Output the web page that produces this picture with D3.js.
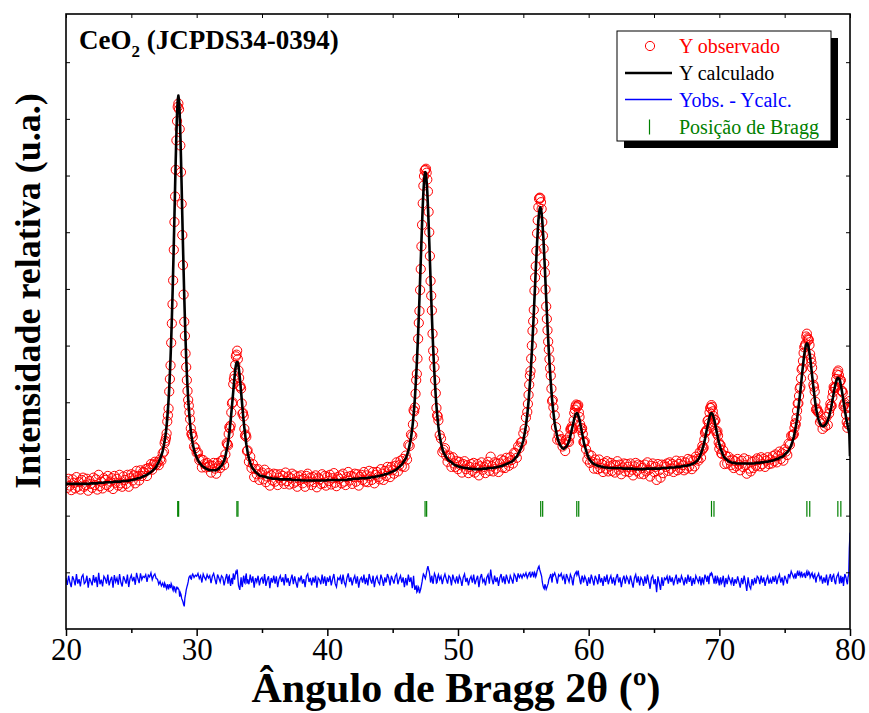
<!DOCTYPE html>
<html>
<head>
<meta charset="utf-8">
<script src="https://cdnjs.cloudflare.com/ajax/libs/d3/7.8.5/d3.min.js"></script>
<style>
body{margin:0;background:#fff}
text{font-family:"Times New Roman","Liberation Serif",serif}
</style>
</head>
<body>
<svg width="869" height="713"></svg>
<script>
// 2theta grid of the refinement (degrees)
var start2theta = 20, step2theta = 0.1

// Y calculado, one value per step, 20.0 .. 80.0
var yCalc = [
156,156,156,156,156,156,156,156,156,156,
156,156,156,156,156,156,156,156,156,157,
157,157,157,157,157,158,158,158,158,158,
159,159,159,159,159,159,159,160,160,160,
160,160,160,161,161,161,161,161,162,162,
163,163,164,164,165,166,166,167,168,169,
170,171,172,174,175,177,179,181,183,186,
191,195,200,206,214,225,239,259,287,325,
378,447,532,629,730,810,841,810,730,629,
532,447,378,327,289,261,241,227,216,209,
203,198,194,191,188,186,185,183,182,181,
180,180,180,180,180,180,182,183,186,188,
192,197,205,216,229,247,268,293,319,345,
365,371,364,344,318,291,266,245,226,212,
201,193,187,183,180,177,175,173,171,170,
170,169,169,168,167,167,166,166,165,165,
165,165,165,164,164,164,164,164,164,164,
164,164,164,163,163,163,163,163,163,163,
162,162,162,162,162,162,162,162,162,162,
162,162,162,162,162,162,162,162,162,162,
163,163,163,163,163,163,163,163,163,163,
163,163,163,163,163,163,164,164,164,164,
165,165,165,165,165,166,166,166,166,166,
166,167,167,167,168,168,168,169,169,170,
170,171,171,172,173,173,174,175,176,177,
178,179,180,182,184,186,188,190,194,197,
201,207,214,225,237,254,277,307,347,395,
452,516,583,645,689,706,689,646,584,517,
453,396,349,310,280,257,240,228,218,211,
207,203,200,197,196,194,192,190,189,188,
187,186,186,185,185,184,184,184,183,183,
183,182,182,182,182,182,182,182,182,183,
183,183,183,184,184,184,184,184,185,185,
186,186,187,187,188,189,190,191,192,193,
194,195,197,199,202,204,209,213,218,225,
233,245,259,278,302,332,368,410,457,507,
557,601,633,644,633,602,559,509,459,412,
371,335,305,282,263,250,239,231,225,222,
219,218,220,222,226,232,241,251,261,272,
279,281,277,269,257,245,233,223,215,208,
202,198,195,193,191,190,189,188,187,187,
186,186,185,185,185,184,184,184,184,184,
184,184,184,184,184,184,183,183,183,183,
183,183,183,183,183,182,182,182,182,182,
182,182,182,182,183,183,183,183,183,183,
183,183,183,183,183,183,184,184,184,184,
184,184,185,185,185,185,185,186,186,186,
186,187,187,188,188,188,189,189,190,191,
192,193,195,197,200,204,210,217,225,235,
247,258,269,278,281,278,270,259,248,236,
226,218,212,206,202,200,198,196,195,194,
193,193,193,192,192,192,192,192,192,192,
192,192,192,192,192,192,192,192,193,193,
193,193,194,194,194,195,195,195,196,196,
197,197,198,199,200,200,202,203,204,205,
208,210,212,215,219,224,231,239,250,264,
280,299,319,342,364,384,398,404,400,387,
368,347,326,307,290,278,269,263,259,258,
258,260,263,268,275,285,296,309,322,333,
341,343,340,330,317,302,287,273,261,250,
205]

// Yobs. - Ycalc., same grid
var yDiff = [
5,-7,9,-3,-11,8,2,-8,12,-5,
3,-10,7,11,-5,-2,9,-12,5,-1,
-8,10,-3,7,-11,14,-6,2,-10,8,
4,-5,11,-8,1,7,-12,10,-2,5,
-7,12,-3,-10,8,2,-5,11,-11,4,
10,-1,7,-7,14,4,-4,13,2,8,
6,11,-2,10,7,14,2,9,12,4,
3,-6,-1,-9,-4,-12,-7,-14,-10,-6,
-13,-8,-17,-11,-20,-14,-14,-28,-24,-34,
-42,-30,-16,-7,5,9,3,12,6,10,
8,13,4,9,-3,12,6,2,11,5,
9,-4,8,13,3,-6,11,5,-2,9,
6,-8,3,12,-5,9,-9,5,13,2,
16,20,-8,-16,6,-11,9,-4,13,3,
-6,11,-3,8,-12,5,-2,9,-8,3,
6,-5,12,-9,2,8,-13,5,-3,9,
-5,8,-11,3,9,-2,6,-8,12,-3,
5,-9,2,11,-6,8,-3,-12,6,0,
9,-5,3,-11,8,12,-2,5,-8,6,
-3,9,-12,5,2,-6,11,-5,8,-9,
6,-2,9,-8,3,12,-5,-11,5,2,
8,-6,11,-3,-9,5,13,-2,6,-8,
3,9,-5,8,-12,2,6,-3,11,-6,
5,-8,12,2,-5,9,-11,3,8,-2,
-6,11,3,-9,6,-3,12,5,-8,9,
2,-5,8,12,-6,3,9,-3,6,-11,
5,-8,11,-2,6,-13,9,-16,-8,-18,
-12,-18,-8,6,10,4,16,26,16,-3,
9,-5,13,6,-3,11,2,8,-6,5,
12,3,-5,9,6,-8,11,2,-3,8,
-5,9,3,-9,6,12,-2,5,-8,3,
8,-3,11,-6,2,9,-11,5,12,-2,
3,-8,6,11,-5,20,3,-6,9,-2,
6,-9,5,12,-3,8,-6,11,2,-5,
9,3,-5,12,8,-2,13,6,11,5,
12,8,14,5,11,15,9,16,6,13,
10,20,26,16,8,-8,-14,-10,-12,-5,
5,12,-3,9,14,6,-5,11,8,13,
3,9,-6,12,5,-2,11,6,-8,9,
14,10,18,5,-6,9,-3,8,2,-9,
6,-5,11,2,-8,9,3,-6,12,-3,
5,-9,8,-2,11,-6,3,9,-5,6,
-8,5,12,-3,6,-11,2,9,-5,8,
3,-6,9,-2,-12,5,11,-3,8,-8,
6,2,-9,8,-5,11,-2,-14,5,9,
-6,3,-20,8,-3,-16,6,-9,5,2,
8,-5,9,-2,6,-8,3,11,-6,5,
-3,9,2,-8,6,-5,11,-2,8,-9,
5,-6,9,3,-3,8,-8,6,-5,11,
3,9,-6,12,14,6,-5,9,-3,5,
-8,6,-3,9,-11,5,-6,8,2,-5,
6,-9,3,-5,8,-2,-12,5,-6,9,
-3,-18,6,-9,-14,3,-8,5,-5,8,
5,-6,9,-3,6,-9,2,8,-5,3,
-5,8,-2,9,-6,5,11,-3,6,-8,
9,3,-5,12,6,17,11,5,13,8,
18,12,8,16,9,13,5,17,11,14,
9,14,5,12,-3,8,13,2,9,-5,
6,-3,11,-8,5,12,-2,9,3,-6,
8,13,-5,9,3,-9,12,5,-6,11,
85]

// extra points measured between the grid steps across the peaks
var extraT = [
27.55,27.65,27.75,27.85,27.95,28.05,28.15,28.25,28.35,28.45,28.55,28.65,28.75,28.85,28.95,29.05,29.15,29.25,29.35,29.45,29.55,29.65,
32.35,32.45,32.55,32.65,32.75,32.85,32.95,33.05,33.15,33.25,33.35,33.45,33.55,33.65,33.75,33.85,
46.55,46.65,46.75,46.85,46.95,47.05,47.15,47.25,47.35,47.45,47.55,47.65,47.75,47.85,47.95,48.05,48.15,48.25,48.35,48.45,
55.35,55.45,55.55,55.65,55.75,55.85,55.95,56.05,56.15,56.25,56.35,56.45,56.55,56.65,56.75,56.85,56.95,57.05,57.15,57.25,
58.55,58.65,58.75,58.85,58.95,59.05,59.15,59.25,59.35,59.45,59.55,59.65,
68.65,68.75,68.85,68.95,69.05,69.15,69.25,69.35,69.45,69.55,69.65,69.75,69.85,69.95,70.05,70.15,
75.65,75.75,75.85,75.95,76.05,76.15,76.25,76.35,76.45,76.55,76.65,76.75,76.85,76.95,77.05,77.15,77.25,77.35,77.45,77.55,
78.45,78.55,78.65,78.75,78.85,78.95,79.05,79.15,79.25,79.35,79.45,79.55,79.65,79.75,79.85,79.95]
var extraCalc = [
232,248,272,304,350,410,487,579,681,774,833,833,774,681,579,487,410,350,306,274,250,234,
222,237,257,280,306,333,356,370,370,355,332,305,278,255,235,219,
265,291,327,370,422,483,549,615,670,702,703,671,616,550,484,423,371,329,294,268,
289,317,349,388,433,482,533,581,620,641,641,620,583,535,484,435,391,352,320,293,
236,245,256,266,275,280,280,273,263,251,239,227,
213,221,230,241,253,264,274,280,280,274,265,253,242,231,222,215,
235,245,257,271,289,309,331,354,375,392,402,403,394,379,358,337,317,298,283,273,
280,290,303,316,328,337,343,342,336,324,310,295,280,267,255,244]
var extraDiff = [
-4,-11,-6,-15,-9,-5,-14,-10,-18,-12,-12,-16,-21,-31,-37,-45,-24,-11,-2,8,4,10,
4,7,-3,2,-6,8,10,14,6,-12,-4,-7,3,-2,8,-5,
-4,-7,-12,-20,-10,-22,-14,-2,12,7,9,22,20,8,4,-2,6,10,-4,7,
8,14,6,12,10,15,7,17,24,20,12,-2,-12,-6,-15,-8,2,8,4,11,
4,8,-3,2,12,16,13,9,-2,3,5,2,
2,-3,4,7,-2,5,8,10,12,2,4,-4,7,-2,3,-5,
7,10,4,14,9,15,11,6,12,8,14,10,16,6,12,7,10,3,6,10,
8,3,6,11,-3,4,10,6,2,-4,7,1,9,-2,6,58]

// CeO2 reflections, K-alpha1 / K-alpha2 pairs
var braggPos = [28.55,28.62,33.08,33.16,47.48,47.60,56.33,56.48,59.09,59.24,69.40,69.59,76.70,76.92,79.07,79.30]

var xTickValues = [20,30,40,50,60,70,80]
var xMinorValues = [25,35,45,55,65,75]
var legendLabels = ["Y observado","Y calculado","Yobs. - Ycalc.","Posição de Bragg"]
var legendColors = ["#ff0000","#000000","#0000ff","#008000"]

var svg = d3.select('svg')
var L = 66, R = 850, T = 14, B = 629

var x = d3.scaleLinear().domain([20,80]).range([L,R])
var y = d3.scaleLinear().domain([-100,985]).range([B,T])
var diffOffset = -15

var data = yCalc.map(function(c,i){
    return {t: start2theta + i*step2theta, calc: c, diff: yDiff[i]}
})
extraT.forEach(function(t,i){
    data.push({t: t, calc: extraCalc[i], diff: extraDiff[i]})
})
data.sort(function(a,b){ return a.t - b.t })
data.forEach(function(d){ d.obs = d.calc + d.diff })

svg.append('rect').attr('width',869).attr('height',713).attr('fill','#fff')

svg.append('clipPath').attr('id','plotclip')
   .append('rect').attr('x',L).attr('y',T).attr('width',R-L).attr('height',B-T)

var plot = svg.append('g').attr('clip-path','url(#plotclip)')

// observed points
plot.selectAll('circle.obs')
    .data(data)
    .enter().append('circle')
    .attr('class','obs')
    .attr('cx', function(d){ return x(d.t) })
    .attr('cy', function(d){ return y(d.obs) })
    .attr('r', 4.6)
    .attr('fill','none')
    .attr('stroke','#ff0000')
    .attr('stroke-width',1)

// calculated
var line = d3.line()
    .x(function(d){ return x(d.t) })
    .y(function(d){ return y(d.calc) })
plot.append('path').datum(data)
    .attr('d', line)
    .attr('fill','none')
    .attr('stroke','#000')
    .attr('stroke-width',2.6)
    .attr('stroke-linejoin','round')

// bragg positions
plot.selectAll('line.bragg')
    .data(braggPos)
    .enter().append('line')
    .attr('class','bragg')
    .attr('x1', function(d){ return x(d) })
    .attr('x2', function(d){ return x(d) })
    .attr('y1', y(126))
    .attr('y2', y(98))
    .attr('stroke','#008000')
    .attr('stroke-width',1.2)

// difference
var dline = d3.line()
    .x(function(d){ return x(d.t) })
    .y(function(d){ return y(diffOffset + d.diff) })
plot.append('path').datum(data)
    .attr('d', dline)
    .attr('fill','none')
    .attr('stroke','#0000ff')
    .attr('stroke-width',1.3)

// axes
var xAxis = svg.append('g').attr('transform','translate(0,'+B+')')
    .call(d3.axisBottom(x).tickValues(xTickValues).tickSize(7).tickPadding(2).tickFormat(d3.format('d')))
xAxis.select('.domain').remove()
xAxis.selectAll('text').attr('font-size',31).attr('fill','#000')
    .style('font-family','"Times New Roman","Liberation Serif",serif')
xAxis.selectAll('line').attr('stroke-width',1.5)

var xMinor = svg.append('g').attr('transform','translate(0,'+B+')')
    .call(d3.axisBottom(x).tickValues(xMinorValues).tickSize(4).tickFormat(''))
xMinor.select('.domain').remove()
xMinor.selectAll('line').attr('stroke-width',1.5)

var xTop = svg.append('g').attr('transform','translate(0,'+T+')')
    .call(d3.axisTop(x).tickValues(xTickValues.concat(xMinorValues)).tickSize(-4).tickFormat(''))
xTop.select('.domain').remove()

var yTicks = d3.range(0, 901, 100)
var yLeft = svg.append('g').attr('transform','translate('+L+',0)')
    .call(d3.axisLeft(y).tickValues(yTicks).tickSize(-4).tickFormat(''))
yLeft.select('.domain').remove()
var yRight = svg.append('g').attr('transform','translate('+R+',0)')
    .call(d3.axisRight(y).tickValues(yTicks).tickSize(-4).tickFormat(''))
yRight.select('.domain').remove()

svg.append('rect')
    .attr('x',L).attr('y',T).attr('width',R-L).attr('height',B-T)
    .attr('fill','none').attr('stroke','#000').attr('stroke-width',1.6)

// titles
svg.append('text')
    .attr('x', (L+R)/2 - 2).attr('y', 702)
    .attr('text-anchor','middle')
    .attr('font-size',42).attr('font-weight','bold')
    .text('Ângulo de Bragg 2θ (º)')

svg.append('text')
    .attr('transform','translate(40,291) rotate(-90)')
    .attr('text-anchor','middle')
    .attr('font-size',36).attr('font-weight','bold')
    .text('Intensidade relativa (u.a.)')

var ttl = svg.append('text').attr('x',79).attr('y',49)
    .attr('font-size',27).attr('font-weight','bold')
ttl.append('tspan').text('CeO')
ttl.append('tspan').attr('font-size',17).attr('dy',8).text('2')
ttl.append('tspan').attr('dy',-8).text(' (JCPDS34-0394)')

// legend
var lg = svg.append('g')
lg.append('rect').attr('x',624).attr('y',38).attr('width',214).attr('height',110).attr('fill','#000')
lg.append('rect').attr('x',617).attr('y',31).attr('width',214).attr('height',110)
    .attr('fill','#fff').attr('stroke','#000').attr('stroke-width',1)

var rowY = [46, 73, 99.5, 126.5]
lg.selectAll('text.lab')
    .data(legendLabels)
    .enter().append('text')
    .attr('class','lab')
    .attr('x',679)
    .attr('y', function(d,i){ return rowY[i] + 7 })
    .attr('font-size',20)
    .attr('fill', function(d,i){ return legendColors[i] })
    .text(function(d){ return d })

lg.append('circle').attr('cx',650).attr('cy',rowY[0]).attr('r',4.6)
    .attr('fill','none').attr('stroke',legendColors[0]).attr('stroke-width',1)
lg.append('line').attr('x1',625).attr('x2',672).attr('y1',rowY[1]).attr('y2',rowY[1])
    .attr('stroke',legendColors[1]).attr('stroke-width',2.6)
lg.append('line').attr('x1',625).attr('x2',672).attr('y1',rowY[2]).attr('y2',rowY[2])
    .attr('stroke',legendColors[2]).attr('stroke-width',1.3)
lg.append('line').attr('x1',649.5).attr('x2',649.5).attr('y1',rowY[3]-7).attr('y2',rowY[3]+8)
    .attr('stroke',legendColors[3]).attr('stroke-width',1.2)
</script>
</body>
</html>
